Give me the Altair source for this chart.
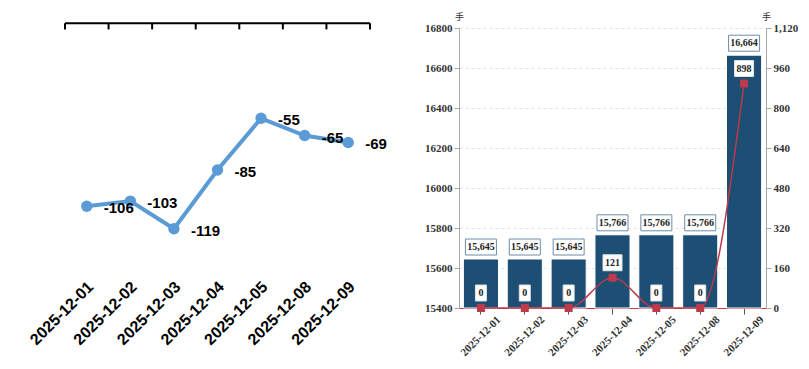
import altair as alt
import pandas as pd

# ---------------- data ----------------
dates = ["2025-12-01", "2025-12-02", "2025-12-03", "2025-12-04",
         "2025-12-05", "2025-12-08", "2025-12-09"]
net_change = [-106, -103, -119, -85, -55, -65, -69]
volume = [15645, 15645, 15645, 15766, 15766, 15766, 16664]
vol_change = [0, 0, 0, 121, 0, 0, 898]
left_ticks = [15400, 15600, 15800, 16000, 16200, 16400, 16600, 16800]
right_ticks = [0, 160, 320, 480, 640, 800, 960, 1120]
unit_label = "手"

BLUE_LINE = "#5B9BD5"
BAR = "#1D4E73"
RED = "#BC3A4C"
AXIS_GRAY = "#A8A8A8"

# ---------------- left chart ----------------
left_df = pd.DataFrame({"date": dates, "change": net_change})
left_df["label"] = left_df["change"].astype(str)

LW, LH = 305, 237
yL_scale = alt.Scale(domain=[-140, -2.7], nice=False, zero=False)


def x_left(band_pos):
    return alt.X(
        "date:N", sort=dates, bandPosition=band_pos, title=None,
        scale=alt.Scale(type="band", paddingInner=0, paddingOuter=0),
        axis=alt.Axis(orient="bottom", domain=False, ticks=False, labelAngle=-45,
                      labelAlign="right", labelBaseline="middle", labelOffset=4,
                      labelFont="Liberation Sans", labelFontWeight="bold",
                      labelFontSize=16, labelColor="#000", labelPadding=19),
    )


one = pd.DataFrame({"k": [0]})
top_rule = alt.Chart(one).mark_rule(color="#000", strokeWidth=2).encode(
    x=alt.value(0), x2=alt.value(LW), y=alt.Y(datum=0, scale=yL_scale, axis=None))
top_ticks = alt.Chart(left_df).mark_rule(color="#000", strokeWidth=2).encode(
    x=x_left(0), y=alt.Y(datum=0, scale=yL_scale, axis=None), y2=alt.datum(-3.5))
last_tick = alt.Chart(one).mark_rule(color="#000", strokeWidth=2).encode(
    x=alt.value(LW), y=alt.Y(datum=0, scale=yL_scale, axis=None), y2=alt.datum(-3.5))

yL = alt.Y("change:Q", scale=yL_scale, axis=None)
l_line = alt.Chart(left_df).mark_line(color=BLUE_LINE, strokeWidth=4).encode(
    x=x_left(0.5), y=yL)
l_pts = alt.Chart(left_df).mark_point(filled=True, color=BLUE_LINE, size=130, opacity=1).encode(
    x=x_left(0.5), y=yL)
l_text = alt.Chart(left_df).mark_text(align="left", baseline="middle", dx=17, dy=2,
                                      font="Liberation Sans", fontWeight="bold",
                                      fontSize=15, color="#000").encode(
    x=x_left(0.5), y=yL, text="label:N")

left = alt.layer(top_rule, top_ticks, last_tick, l_line, l_pts, l_text).properties(
    width=LW, height=LH)

# ---------------- right chart ----------------
right_df = pd.DataFrame({"date": dates, "vol": volume, "chg": vol_change})
right_df["vol_label"] = right_df["vol"].map(lambda v: f"{v:,}")
right_df["chg_label"] = right_df["chg"].map(lambda v: f"{v:,}")


def box_path(label, center):
    w = 4 * len(label) + 7
    h = 16
    return f"M{-w / 2},{-center - h / 2}H{w / 2}V{-center + h / 2}H{-w / 2}Z"


right_df["vol_box"] = right_df["vol_label"].map(lambda s: box_path(s, 12))
right_df["chg_box"] = right_df["chg_label"].map(lambda s: box_path(s, 15))

RW, RH = 307, 280

xR = alt.X("date:N", sort=dates, title=None,
           scale=alt.Scale(paddingInner=0.2, paddingOuter=0.1),
           axis=alt.Axis(labelAngle=-45, labelAlign="center", labelBaseline="middle",
                         labelFont="Liberation Serif", labelFontWeight="bold",
                         labelFontSize=11, labelColor="#333", labelPadding=22,
                         domainColor=RED, domainWidth=1.2, tickColor="#555",
                         tickSize=6))

axis_common = dict(titleAngle=0, titleX=0, titleY=-9, titleAlign="center",
                   titleBaseline="alphabetic", titleFont="Noto Sans CJK SC",
                   titleFontSize=9, titleFontWeight="normal", titleColor="#333",
                   labelFont="Liberation Serif", labelFontWeight="bold",
                   labelFontSize=11, labelColor="#333", domainColor=AXIS_GRAY,
                   tickColor=AXIS_GRAY, tickSize=5)

yVol_scale = alt.Scale(domain=[15400, 16800], nice=False, zero=False)
yVol = alt.Y("vol:Q", scale=yVol_scale,
             axis=alt.Axis(orient="left", values=left_ticks, format="d", title=unit_label,
                           grid=True, gridColor="#E2E2E2", gridDash=[3, 3],
                           **axis_common))
yChg = alt.Y("chg:Q", scale=alt.Scale(domain=[0, 1120], nice=False),
             axis=alt.Axis(orient="right", values=right_ticks, format=",d", title=unit_label,
                           grid=False, **axis_common))

base = alt.Chart(right_df)
bars = base.mark_bar(color=BAR, stroke="white", strokeWidth=1).encode(
    x=xR, y=yVol, y2=alt.datum(15400))
vol_boxes = base.mark_point(filled=True, fill="white", stroke="#6E8DA8", strokeWidth=1,
                            size=4, opacity=1).encode(
    x=xR, y=yVol, shape=alt.Shape("vol_box:N", scale=None, legend=None))
vol_text = base.mark_text(dy=-12, baseline="middle", align="center",
                          font="Liberation Serif", fontWeight="bold", fontSize=10,
                          color="#222").encode(x=xR, y=yVol, text="vol_label:N")

line = base.mark_line(interpolate="monotone", color=RED, strokeWidth=1.5).encode(
    x=xR, y=yChg)
squares = base.mark_point(shape="square", filled=True, color=RED, size=64,
                          opacity=1).encode(x=xR, y=yChg)
chg_boxes = base.mark_point(filled=True, fill="white", stroke="#E0E0E0", strokeWidth=1,
                            size=4, opacity=1).encode(
    x=xR, y=yChg, shape=alt.Shape("chg_box:N", scale=None, legend=None))
chg_text = base.mark_text(dy=-15, baseline="middle", align="center",
                          font="Liberation Serif", fontWeight="bold", fontSize=10,
                          color="#222").encode(x=xR, y=yChg, text="chg_label:N")

right = alt.layer(
    alt.layer(bars, vol_boxes, vol_text),
    alt.layer(line, squares, chg_boxes, chg_text),
).resolve_scale(y="independent").properties(width=RW, height=RH)

chart = alt.hconcat(left, right, spacing=89, bounds="flush").properties(
    padding={"left": 18, "top": 4, "right": 0, "bottom": 0}
).configure_view(strokeWidth=0)

chart.save("out.html", embed_options={"renderer": "svg", "actions": False})
